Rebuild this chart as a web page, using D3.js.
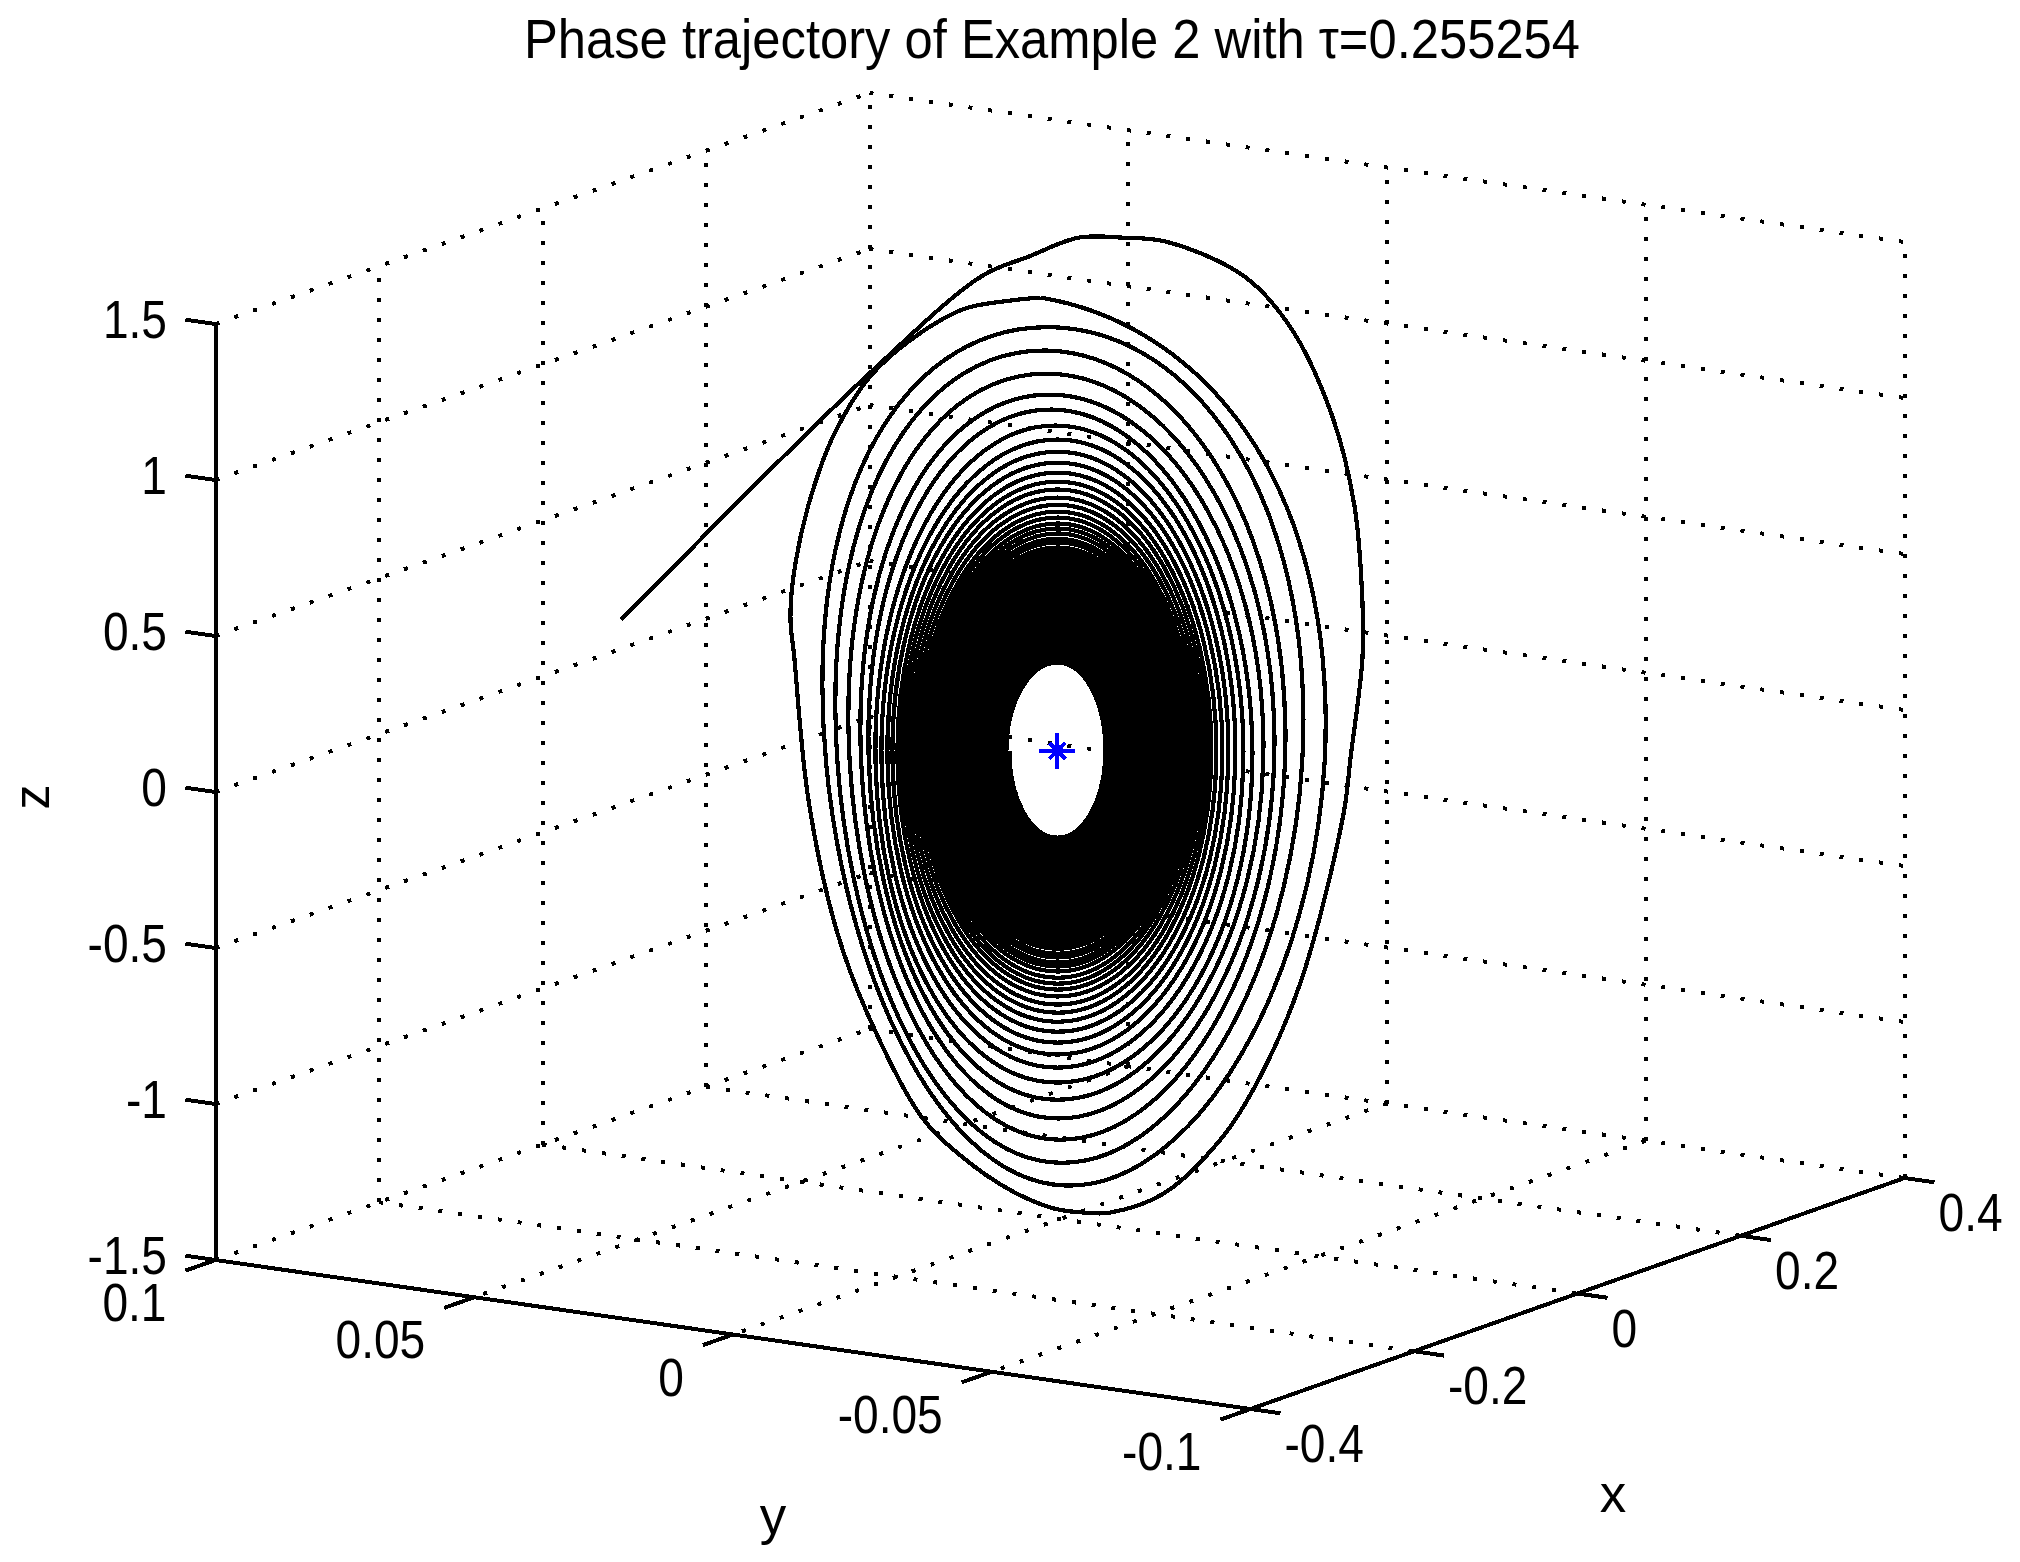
<!DOCTYPE html>
<html>
<head>
<meta charset="utf-8">
<title>Phase trajectory</title>
<script src="https://cdn.jsdelivr.net/npm/d3@7"></script>
<style>
  html, body { margin: 0; padding: 0; background: #fff; }
  svg { display: block; }
  text { font-family: "Liberation Sans", sans-serif; fill: #000; }
</style>
</head>
<body>
<svg></svg>
<script>
let width = 2020, height = 1562;

// axis ticks
const xTicks = [-0.4, -0.2, 0, 0.2, 0.4];
const yTicks = [0.1, 0.05, 0, -0.05, -0.1];
const zTicks = [-1.5, -1, -0.5, 0, 0.5, 1, 1.5];
const xTickLabels = ["-0.4", "-0.2", "0", "0.2", "0.4"];
const yTickLabels = ["0.1", "0.05", "0", "-0.05", "-0.1"];
const zTickLabels = ["-1.5", "-1", "-0.5", "0", "0.5", "1", "1.5"];

// equilibrium marker
const starX = 0, starY = 0.0005, starZ = 0;

// first part of the trajectory, read point by point: start, then the outermost turn
// h is the horizontal position in the plane of the spiral, measured from the marker
const leadH = [-0.436, -0.186, -0.075, -0.029, 0.021, 0.066, 0.109, 0.186, 0.232, 0.274, 0.297, 0.305, 0.305,
  0.293, 0.286, 0.243, 0.198, 0.163, 0.106, 0.052, 0.029, -0.003, -0.048, -0.098, -0.136, -0.19, -0.221,
  -0.249, -0.263, -0.267, -0.262, -0.245, -0.221, -0.179, -0.098, -0.048, -0.017];
const leadZ = [0.42, 1.215, 1.522, 1.583, 1.644, 1.644, 1.631, 1.522, 1.362, 1.08, 0.785, 0.478, 0.295,
  -0.026, -0.205, -0.744, -1.074, -1.247, -1.42, -1.481, -1.481, -1.468, -1.407, -1.295, -1.173, -0.843, -0.574,
  -0.157, 0.295, 0.429, 0.6, 0.83, 1.029, 1.228, 1.41, 1.442, 1.452];

// remaining turns: where each one crosses the top, right, bottom and left of the marker
// the values past the first 20 or so are estimates, the picture is solid black there
const topZ = [1.452, 1.356, 1.282, 1.208, 1.141, 1.093, 1.042, 0.997, 0.958, 0.923, 0.891, 0.862, 0.837, 0.811, 0.788,
  0.766, 0.747, 0.728, 0.712, 0.696, 0.679, 0.667, 0.651, 0.638, 0.625, 0.612, 0.599, 0.587, 0.574, 0.561,
  0.548, 0.535, 0.522, 0.51, 0.5, 0.487, 0.478, 0.465, 0.455, 0.446, 0.436, 0.423, 0.413, 0.404, 0.394,
  0.385, 0.375, 0.365, 0.356, 0.346, 0.337, 0.327, 0.317, 0.308, 0.298, 0.288, 0.282];
const rightH = [0.268, 0.246, 0.228, 0.217, 0.206, 0.195, 0.186, 0.178, 0.171, 0.165, 0.159, 0.154, 0.15, 0.146, 0.142,
  0.138, 0.135, 0.132, 0.129, 0.127, 0.125, 0.123, 0.121, 0.119, 0.117, 0.114, 0.112, 0.11, 0.108, 0.106,
  0.104, 0.102, 0.1, 0.098, 0.096, 0.094, 0.092, 0.09, 0.088, 0.086, 0.084, 0.082, 0.08, 0.078, 0.076,
  0.074, 0.072, 0.07, 0.068, 0.066, 0.064, 0.062, 0.06, 0.058, 0.055, 0.052, 0.048];
const bottomZ = [-1.394, -1.321, -1.247, -1.179, -1.119, -1.064, -1.016, -0.974, -0.936, -0.901, -0.869, -0.84, -0.814, -0.788, -0.766,
  -0.747, -0.728, -0.708, -0.692, -0.679, -0.663, -0.651, -0.635, -0.622, -0.609, -0.596, -0.583, -0.571, -0.558, -0.545,
  -0.535, -0.522, -0.51, -0.5, -0.487, -0.478, -0.468, -0.455, -0.446, -0.436, -0.426, -0.417, -0.407, -0.397, -0.388,
  -0.378, -0.369, -0.359, -0.349, -0.34, -0.33, -0.321, -0.311, -0.301, -0.295, -0.285, -0.279];
const leftH = [-0.235, -0.222, -0.209, -0.197, -0.189, -0.182, -0.176, -0.17, -0.165, -0.16, -0.156, -0.152, -0.148, -0.144, -0.14,
  -0.137, -0.134, -0.131, -0.128, -0.126, -0.124, -0.122, -0.12, -0.118, -0.116, -0.114, -0.112, -0.11, -0.108, -0.106,
  -0.104, -0.102, -0.1, -0.098, -0.096, -0.094, -0.092, -0.09, -0.088, -0.086, -0.084, -0.082, -0.08, -0.078, -0.076,
  -0.074, -0.072, -0.07, -0.068, -0.066, -0.064, -0.062, -0.06, -0.058, -0.054, -0.051, -0.048];

// the outer turns are a bit off centre, further in they sit on the marker
const topH = [-0.017, 0.002, -0.008, -0.008, -0.006, -0.004, -0.002];
const rightZ = [0.15, 0.1, 0.07, 0.05, 0.03];
const bottomH = [0.008, 0.003, 0.002, 0.001];
const leftZ = [0.2, 0.12, 0.08, 0.05, 0.03];

let svg = d3.select("svg")
  .attr("width", width)
  .attr("height", height)
  .attr("viewBox", "0 0 " + width + " " + height);

// the box is a parallelogram on screen, every data axis adds its own pixel offset
const originX = 1060, originY = 1219;
const xToPx = d3.scaleLinear().domain([-0.4, 0.4]).range([-327, 327]);
const xToPy = d3.scaleLinear().domain([-0.4, 0.4]).range([115.5, -115.5]);
const yToPx = d3.scaleLinear().domain([-0.1, 0.1]).range([517.5, -517.5]);
const yToPy = d3.scaleLinear().domain([-0.1, 0.1]).range([74.5, -74.5]);
const zToPy = d3.scaleLinear().domain([-1.5, 1.5]).range([0, -936]);

function project(x, y, z) {
  return [originX + xToPx(x) + yToPx(y), originY + xToPy(x) + yToPy(y) + zToPy(z)];
}

const xMin = -0.4, xMax = 0.4, yFront = -0.1, yBack = 0.1, zMin = -1.5, zMax = 1.5;

// dotted grid on the two back walls and the floor
let gridSegs = [];
xTicks.filter(x => x > xMin).forEach(x => {
  gridSegs.push([project(x, yBack, zMin), project(x, yBack, zMax)]);
  gridSegs.push([project(x, yBack, zMin), project(x, yFront, zMin)]);
});
yTicks.filter(y => y < yBack).forEach(y => {
  gridSegs.push([project(xMax, y, zMin), project(xMax, y, zMax)]);
  gridSegs.push([project(xMax, y, zMin), project(xMin, y, zMin)]);
});
zTicks.forEach(z => {
  gridSegs.push([project(xMin, yBack, z), project(xMax, yBack, z)]);
  gridSegs.push([project(xMax, yBack, z), project(xMax, yFront, z)]);
});

svg.append("g")
  .attr("id", "grid")
  .selectAll("line")
  .data(gridSegs)
  .enter()
  .append("line")
  .attr("x1", d => d[0][0])
  .attr("y1", d => d[0][1])
  .attr("x2", d => d[1][0])
  .attr("y2", d => d[1][1])
  .attr("stroke", "#000")
  .attr("stroke-width", 4)
  .attr("stroke-dasharray", "4 16")
  .attr("shape-rendering", "crispEdges");

// axis lines and ticks
let axisSegs = [
  [project(xMin, yBack, zMin), project(xMin, yBack, zMax)],
  [project(xMin, yBack, zMin), project(xMin, yFront, zMin)],
  [project(xMin, yFront, zMin), project(xMax, yFront, zMin)]
];
zTicks.forEach(z => axisSegs.push([project(xMin, yBack, z), project(xMin, yBack + 0.0058, z)]));
yTicks.forEach(y => axisSegs.push([project(xMin, y, zMin), project(xMin - 0.0367, y, zMin)]));
xTicks.forEach(x => axisSegs.push([project(x, yFront, zMin), project(x, yFront - 0.0058, zMin)]));

svg.append("g")
  .attr("id", "axes")
  .selectAll("line")
  .data(axisSegs)
  .enter()
  .append("line")
  .attr("x1", d => d[0][0])
  .attr("y1", d => d[0][1])
  .attr("x2", d => d[1][0])
  .attr("y2", d => d[1][1])
  .attr("stroke", "#000")
  .attr("stroke-width", 4)
  .attr("shape-rendering", "crispEdges");

// trajectory
const star = project(starX, starY, starZ);
const hToPx = d3.scaleLinear().domain([-0.4, 0.4]).range([star[0] - 400, star[0] + 400]);
const trajToPy = d3.scaleLinear().domain([-1.5, 1.5]).range([star[1] + 468, star[1] - 468]);

const line = d3.line().x(d => hToPx(d[0])).y(d => trajToPy(d[1]));

svg.append("path")
  .attr("d", line.curve(d3.curveCatmullRom.alpha(0.5))(leadH.map((h, i) => [h, leadZ[i]])))
  .attr("fill", "none")
  .attr("stroke", "#000")
  .attr("stroke-width", 4.2)
  .attr("shape-rendering", "crispEdges");

// one point before and one after the turns, only there so both ends get a proper tangent
let turns = [[leadH[29], leadZ[29]]];
topZ.forEach((z, i) => {
  turns.push([topH[i] || 0, z]);
  turns.push([rightH[i], rightZ[i] || 0]);
  turns.push([bottomH[i] || 0, bottomZ[i]]);
  turns.push([leftH[i], leftZ[i] || 0]);
});
turns.push([0, topZ[topZ.length - 1]]);

// collect the curve pieces so the first and last one can be left out
let pieces = [];
const turnCurve = line.curve(d3.curveCardinal.tension(-0.66)).context({
  moveTo() {},
  lineTo() {},
  closePath() {},
  bezierCurveTo(a, b, c, d, x, y) { pieces.push([a, b, c, d, x, y]); }
});
turnCurve(turns);
line.context(null);

const turnPath = d3.path();
pieces.slice(1, -1).forEach((p, i) => {
  if (i === 0) turnPath.moveTo(pieces[0][4], pieces[0][5]);
  turnPath.bezierCurveTo(p[0], p[1], p[2], p[3], p[4], p[5]);
});

// this tension makes four points per turn come out as an ellipse
svg.append("path")
  .attr("d", turnPath.toString())
  .attr("fill", "none")
  .attr("stroke", "#000")
  .attr("stroke-width", 4.2)
  .attr("shape-rendering", "crispEdges");

// blue star marker
let starG = svg.append("g")
  .attr("transform", "translate(" + star[0] + "," + star[1] + ")")
  .attr("stroke", "#0000ff")
  .attr("stroke-width", 4)
  .attr("shape-rendering", "crispEdges");
[[-18, 0, 18, 0], [0, -18, 0, 18], [-8, -8, 8, 8], [-8, 8, 8, -8]].forEach(s => {
  starG.append("line").attr("x1", s[0]).attr("y1", s[1]).attr("x2", s[2]).attr("y2", s[3]);
});
starG.append("circle").attr("r", 6).attr("fill", "#0000ff").attr("stroke", "none");

// labels, squeezed sideways like the old bitmap font
function squeeze(sel, factor) {
  sel.each(function () {
    let len = this.getComputedTextLength();
    d3.select(this).attr("textLength", len * factor).attr("lengthAdjust", "spacingAndGlyphs");
  });
}

const tickFont = 53;

let zLabels = svg.append("g").selectAll("text")
  .data(zTicks)
  .enter()
  .append("text")
  .attr("x", 167)
  .attr("y", d => project(xMin, yBack, d)[1] + 14)
  .attr("text-anchor", "end")
  .style("font-size", tickFont + "px")
  .text((d, i) => zTickLabels[i]);
squeeze(zLabels, 0.87);

let yLabels = svg.append("g").selectAll("text")
  .data(yTicks)
  .enter()
  .append("text")
  .attr("x", d => project(xMin, d, zMin)[0] - 49)
  .attr("y", d => project(xMin, d, zMin)[1] + 61)
  .attr("text-anchor", "end")
  .style("font-size", tickFont + "px")
  .text((d, i) => yTickLabels[i]);
squeeze(yLabels, 0.87);

let xLabels = svg.append("g").selectAll("text")
  .data(xTicks)
  .enter()
  .append("text")
  .attr("x", d => project(d, yFront, zMin)[0] + 34)
  .attr("y", d => project(d, yFront, zMin)[1] + 53)
  .attr("text-anchor", "start")
  .style("font-size", tickFont + "px")
  .text((d, i) => xTickLabels[i]);
squeeze(xLabels, 0.87);

svg.append("text")
  .attr("x", 1052)
  .attr("y", 58)
  .attr("text-anchor", "middle")
  .attr("textLength", 1056)
  .attr("lengthAdjust", "spacingAndGlyphs")
  .style("font-size", "56px")
  .text("Phase trajectory of Example 2 with τ=0.255254");

svg.append("text")
  .attr("x", 773).attr("y", 1534)
  .attr("text-anchor", "middle")
  .style("font-size", tickFont + "px")
  .text("y");

svg.append("text")
  .attr("x", 1613).attr("y", 1512)
  .attr("text-anchor", "middle")
  .style("font-size", tickFont + "px")
  .text("x");

svg.append("text")
  .attr("transform", "translate(49,797) rotate(-90)")
  .attr("text-anchor", "middle")
  .style("font-size", "50px")
  .text("z");
</script>
</body>
</html>
